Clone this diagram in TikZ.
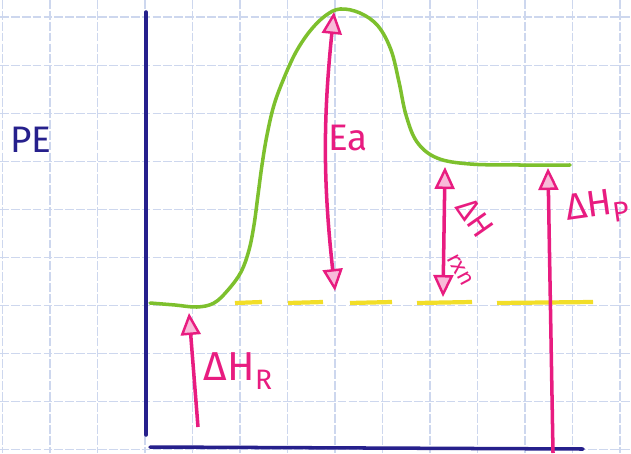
\documentclass[tikz,border=0pt]{standalone}
\usepackage{fontspec}
\setsansfont{Fira Sans}
\usepackage{tikz}
\usetikzlibrary{arrows.meta}
\definecolor{AxisBlue}{RGB}{38,32,140}
\definecolor{CurveGreen}{RGB}{125,192,45}
\definecolor{PenPink}{RGB}{232,28,128}
\definecolor{DashYellow}{RGB}{242,222,40}
\definecolor{GridBlue}{RGB}{205,215,238}
\newcommand{\lowsub}[1]{\raisebox{-0.45ex}{\fontsize{16}{18}\selectfont #1}}
\tikzset{
  gridline/.style={GridBlue,line width=0.6pt,dash pattern=on 5pt off 1.2pt},
  axis/.style={AxisBlue,line width=2pt,line cap=round},
  curve/.style={CurveGreen,line width=2pt,line cap=round},
  base/.style={DashYellow,line width=2.4pt},
  pen/.style={PenPink,line width=2pt},
  one/.style={pen,->},
  both/.style={pen,<->},
  lbl/.style={PenPink,inner sep=0pt,font=\sffamily\fontsize{21}{25}\selectfont},
}

\begin{document}
\begin{tikzpicture}[x=0.02cm,y=-0.02cm,
    >={Triangle[length=4.4mm,width=4mm,fill=PenPink!30,line width=1.4pt]}]
  \useasboundingbox[fill=white] (0,0) rectangle (631,453);
  % squared paper
  \foreach \i in {0,...,13}
    \draw[gridline] (2.5+47.5*\i,0) -- (2.5+47.5*\i,453);
  \foreach \j in {0,...,9}
    \draw[gridline] (0,17+48.1*\j) -- (631,17+48.1*\j);

  % axes
  \coordinate (ytop) at (146,12);
  \coordinate (ybot) at (146,435);
  \coordinate (xleft) at (150,447);
  \coordinate (xright) at (583,449);
  \draw[axis] (ytop) -- (ybot);
  \draw[axis] (xleft) -- (xright);
  \node[lbl,text=AxisBlue] (pe) at (31,140) {PE};

  % reactant level
  \foreach \a/\b in {235/262,288/323,350/392,417/472,497/593}
    \draw[base] (\a,303) -- (\b,302);

  % energy profile
  \draw[curve] plot[smooth,tension=0.6] coordinates {
    (150,303) (175,305) (197,307) (214,303) (228,290) (241,272)
    (249,250) (254,225) (258,195) (262,165) (267,135) (274,105)
    (284,78) (296,52) (310,31) (325,16) (340,9) (360,13)
    (378,26) (391,50) (399,82) (406,115) (417,142) (437,158)
    (470,164) (520,165) (570,165)};

  % arrow ends
  \coordinate (eatop) at (334,12);
  \coordinate (eabot) at (335,291);
  \coordinate (rxntop) at (445,167);
  \coordinate (rxnbot) at (443,297);
  \coordinate (hptop) at (548,168);
  \coordinate (hpbot) at (553,453);
  \coordinate (hrtop) at (189,313);
  \coordinate (hrbot) at (198,427);

  \draw[both] (eatop) to[bend right=6] (eabot);
  \draw[both] (rxntop) -- (rxnbot);
  \draw[one] (hpbot) -- (hptop);
  \draw[one] (hrbot) -- (hrtop);

  % labels
  \node[lbl] (ea) at (348,138) {Ea};
  \node[lbl,rotate=-55,font=\sffamily\fontsize{18}{22}\selectfont] (dhrxn) at (475,218) {ΔH};
  \node[lbl,rotate=-62,font=\sffamily\fontsize{13}{15}\selectfont] (rxn) at (460,270) {rxn};
  \node[lbl,rotate=8] (dhp) at (597,208) {ΔH\lowsub{P}};
  \node[lbl,font=\sffamily\fontsize{23}{27}\selectfont] (dhr) at (238,371) {ΔH\lowsub{R}};
\end{tikzpicture}
\end{document}
